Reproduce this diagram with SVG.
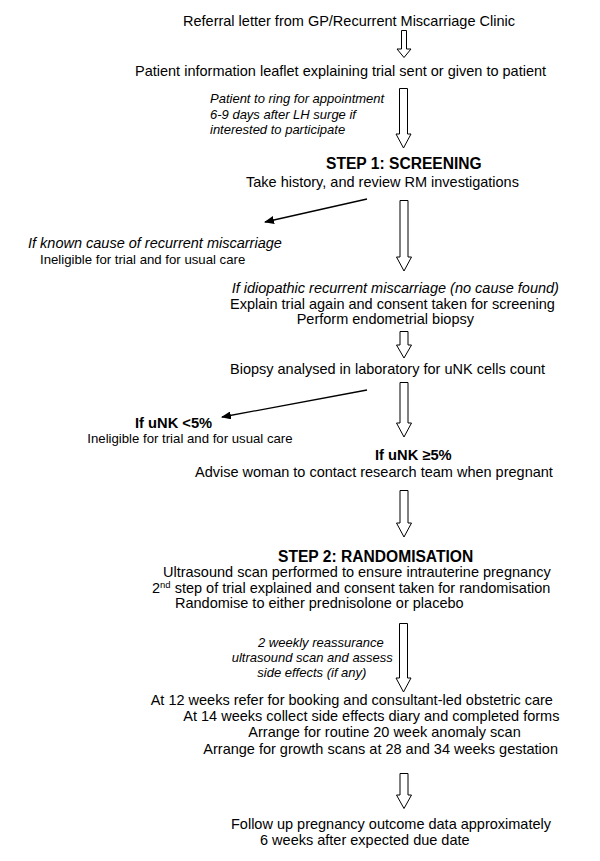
<svg xmlns="http://www.w3.org/2000/svg" width="600" height="861" viewBox="0 0 600 861">
<style>
text{font-family:"Liberation Sans",Arial,sans-serif;fill:#000}
.m{font-size:14.5px}
.s{font-size:13.2px}
.i{font-size:13px;font-style:italic}
.im{font-size:14.5px;font-style:italic}
.h{font-size:15.6px;font-weight:bold}
.b{font-size:14.7px;font-weight:bold}
.blk{fill:#fff;stroke:#000;stroke-width:1}
.thin{stroke:#000;stroke-width:1.3;fill:none;marker-end:url(#ah)}
</style>
<defs>
<marker id="ah" markerWidth="10" markerHeight="8" refX="9" refY="4" orient="auto" markerUnits="userSpaceOnUse">
<path d="M0,0 L10,4 L0,8 Z" fill="#000"/>
</marker>
</defs>
<rect width="600" height="861" fill="#fff"/>
<g id="connectors">
<path class="blk" d="M401.5,30.5 H406.5 V49 H411 L404,57.5 L397,49 H401.5 Z"/>
<path class="blk" d="M399.5,88.5 H407.5 V134 H411 L403.5,148 L396,134 H399.5 Z"/>
<path class="blk" d="M400,200.5 H408 V257 H411.5 L404,271 L396.5,257 H400 Z"/>
<path class="blk" d="M400,331.5 H408 V345 H411.5 L404,358 L396.5,345 H400 Z"/>
<path class="blk" d="M400,382.5 H408 V423 H411.5 L404,437 L396.5,423 H400 Z"/>
<path class="blk" d="M400,490.5 H408 V523 H411.5 L404,537 L396.5,523 H400 Z"/>
<path class="blk" d="M399.5,623.5 H407.5 V678 H411 L403.5,692 L396,678 H399.5 Z"/>
<path class="blk" d="M400,773.5 H408 V795 H411.5 L404,808.5 L396.5,795 H400 Z"/>
<line class="thin" x1="367" y1="199" x2="265" y2="222"/>
<line class="thin" x1="367" y1="390" x2="222" y2="417"/>
</g>
<g id="n1"><text class="m" x="183" y="26">Referral letter from GP/Recurrent Miscarriage Clinic</text></g>
<g id="n2"><text class="m" x="135" y="76">Patient information leaflet explaining trial sent or given to patient</text></g>
<g id="n3"><text class="i" x="210" y="103">Patient to ring for appointment</text><text class="i" x="210" y="118.5">6-9 days after LH surge if</text><text class="i" x="210" y="134">interested to participate</text></g>
<g id="n4"><text class="h" x="326" y="169">STEP 1: SCREENING</text><text class="m" x="246" y="187">Take history, and review RM investigations</text></g>
<g id="n5"><text class="im" x="28" y="248">If known cause of recurrent miscarriage</text><text class="s" x="40" y="263.5">Ineligible for trial and for usual care</text></g>
<g id="n6"><text class="im" x="231.7" y="293">If idiopathic recurrent miscarriage (no cause found)</text><text class="m" x="230" y="308.5">Explain trial again and consent taken for screening</text><text class="m" x="296.7" y="324">Perform endometrial biopsy</text></g>
<g id="n7"><text class="m" x="230" y="373.5">Biopsy analysed in laboratory for uNK cells count</text></g>
<g id="n8"><text class="b" x="135" y="428">If uNK &lt;5%</text><text class="s" x="87.3" y="443">Ineligible for trial and for usual care</text></g>
<g id="n9"><text class="b" x="375" y="460">If uNK ≥5%</text><text class="m" x="195" y="477">Advise woman to contact research team when pregnant</text></g>
<g id="n10"><text class="h" x="278" y="561.5">STEP 2: RANDOMISATION</text><text class="m" x="163" y="577">Ultrasound scan performed to ensure intrauterine pregnancy</text><text class="m" x="152" y="592.5">2<tspan font-size="9.5px" dy="-5">nd</tspan><tspan dy="5"> step of trial explained and consent taken for randomisation</tspan></text><text class="m" x="175" y="608">Randomise to either prednisolone or placebo</text></g>
<g id="n11"><text class="i" x="258" y="646.5">2 weekly reassurance</text><text class="i" x="231.7" y="661.5">ultrasound scan and assess</text><text class="i" x="257.3" y="676.5">side effects (if any)</text></g>
<g id="n12"><text class="m" x="150.7" y="704.5">At 12 weeks refer for booking and consultant-led obstetric care</text><text class="m" x="183.3" y="721">At 14 weeks collect side effects diary and completed forms</text><text class="m" x="248.3" y="737">Arrange for routine 20 week anomaly scan</text><text class="m" x="203.3" y="753.5">Arrange for growth scans at 28 and 34 weeks gestation</text></g>
<g id="n13"><text class="m" x="231" y="829">Follow up pregnancy outcome data approximately</text><text class="m" x="260" y="845">6 weeks after expected due date</text></g>
</svg>
